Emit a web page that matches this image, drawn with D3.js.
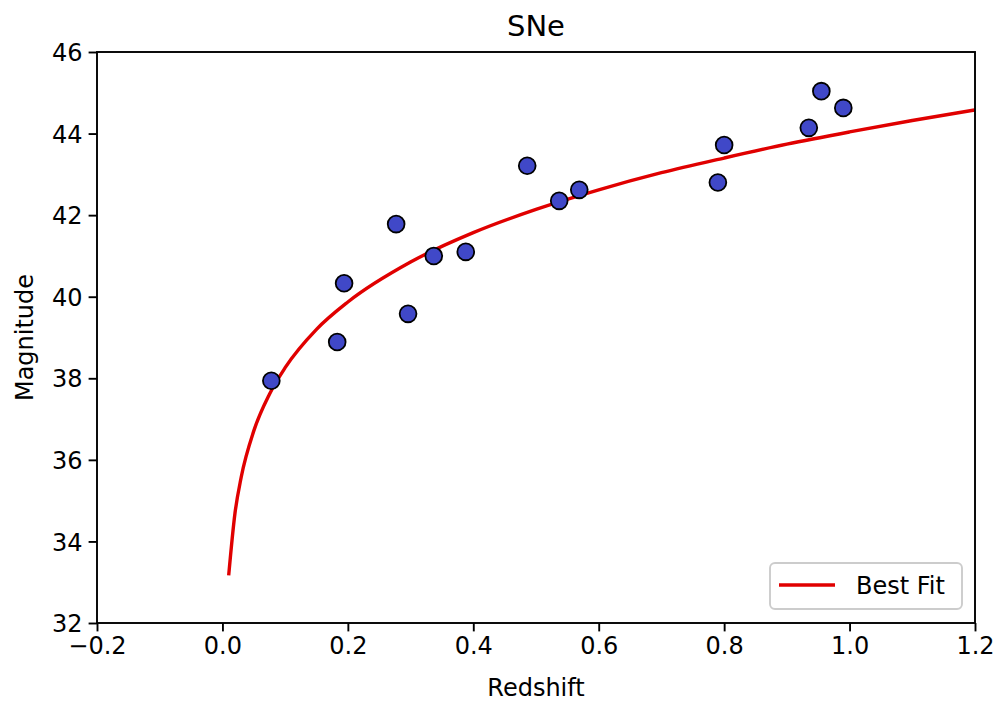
<!DOCTYPE html>
<html>
<head>
<meta charset="utf-8">
<title>SNe</title>
<script src="https://d3js.org/d3.v7.min.js"></script>
<style>
  * { margin: 0; padding: 0; }
  body { background: #fff; }
  svg { display: block; font-family: "DejaVu Sans", sans-serif; }
</style>
</head>
<body>
<div id="chart"></div>
<script>
// observed supernovae (redshift, magnitude)
const redshift  = [0.078, 0.183, 0.194, 0.277, 0.296, 0.337, 0.388, 0.486, 0.537, 0.569, 0.790, 0.800, 0.935, 0.955, 0.990];
const magnitude = [37.94, 38.89, 40.33, 41.78, 39.58, 41.00, 41.10, 43.21, 42.35, 42.62, 42.80, 43.72, 44.14, 45.04, 44.63];

// best fit curve
const fitZ   = [0.01, 0.02, 0.03, 0.05, 0.075, 0.1, 0.15, 0.2, 0.3, 0.4, 0.5, 0.6, 0.7, 0.8, 0.9, 1.0, 1.1, 1.2];
const fitMag = [33.17, 34.69, 35.58, 36.71, 37.61, 38.26, 39.20, 39.87, 40.85, 41.57, 42.14, 42.62, 43.04, 43.40, 43.74, 44.04, 44.32, 44.58];

const xTicks = [-0.2, 0.0, 0.2, 0.4, 0.6, 0.8, 1.0, 1.2];
const yTicks = [32, 34, 36, 38, 40, 42, 44, 46];

const width = 998, height = 702;
const margin = { top: 52, right: 23, bottom: 79, left: 97 };

const svg = d3.select("#chart").append("svg")
  .attr("width", width)
  .attr("height", height);

const x = d3.scaleLinear().domain([-0.2, 1.2]).range([margin.left, width - margin.right]);
const y = d3.scaleLinear().domain([32, 46]).range([height - margin.bottom, margin.top]);

// clip for plot area
svg.append("clipPath").attr("id", "clip")
  .append("rect")
  .attr("x", margin.left).attr("y", margin.top)
  .attr("width", x.range()[1] - margin.left)
  .attr("height", y.range()[0] - margin.top);

const plot = svg.append("g").attr("clip-path", "url(#clip)");

// fit line
const line = d3.line()
  .x((d, i) => x(fitZ[i]))
  .y(d => y(d))
  .curve(d3.curveMonotoneX);

plot.append("path")
  .datum(fitMag)
  .attr("d", line)
  .attr("fill", "none")
  .attr("stroke", "#e00000")
  .attr("stroke-width", 3.4);

// points
plot.selectAll("circle")
  .data(redshift)
  .join("circle")
  .attr("cx", d => x(d))
  .attr("cy", (d, i) => y(magnitude[i]))
  .attr("r", 8.4)
  .attr("fill", "#4048c8")
  .attr("stroke", "#000")
  .attr("stroke-width", 1.8);

// axes
const xAxis = svg.append("g")
  .attr("transform", `translate(0,${y.range()[0]})`)
  .call(d3.axisBottom(x).tickValues(xTicks).tickSize(8.4).tickPadding(6)
    .tickFormat(d => d3.format(".1f")(d).replace("-", "\u2212")));

const yAxis = svg.append("g")
  .attr("transform", `translate(${margin.left},0)`)
  .call(d3.axisLeft(y).tickValues(yTicks).tickSize(8.4).tickPadding(6)
    .tickFormat(d3.format("d")));

[xAxis, yAxis].forEach(g => {
  g.selectAll("text").attr("font-size", 24).attr("fill", "#000").attr("font-family", "DejaVu Sans");
  g.selectAll("line").attr("stroke", "#000").attr("stroke-width", 1.9);
  g.select(".domain").remove();
});
yAxis.selectAll("text").attr("dy", "0.36em");

// frame
svg.append("rect")
  .attr("x", margin.left).attr("y", margin.top)
  .attr("width", x.range()[1] - margin.left)
  .attr("height", y.range()[0] - margin.top)
  .attr("fill", "none")
  .attr("stroke", "#000")
  .attr("stroke-width", 1.9);

// title and labels
svg.append("text")
  .attr("x", (margin.left + x.range()[1]) / 2)
  .attr("y", 36)
  .attr("text-anchor", "middle")
  .attr("font-size", 29)
  .text("SNe");

svg.append("text")
  .attr("x", (margin.left + x.range()[1]) / 2)
  .attr("y", 696)
  .attr("text-anchor", "middle")
  .attr("font-size", 24)
  .text("Redshift");

svg.append("text")
  .attr("transform", `translate(33,${(margin.top + y.range()[0]) / 2}) rotate(-90)`)
  .attr("text-anchor", "middle")
  .attr("font-size", 24)
  .text("Magnitude");

// legend
const lg = svg.append("g");
lg.append("rect")
  .attr("x", 770).attr("y", 563)
  .attr("width", 192).attr("height", 46)
  .attr("rx", 5)
  .attr("fill", "#fff")
  .attr("fill-opacity", 0.8)
  .attr("stroke", "#cccccc")
  .attr("stroke-width", 1.9);
lg.append("line")
  .attr("x1", 779).attr("x2", 835)
  .attr("y1", 585).attr("y2", 585)
  .attr("stroke", "#e00000")
  .attr("stroke-width", 3.4);
lg.append("text")
  .attr("x", 856).attr("y", 594)
  .attr("font-size", 24)
  .text("Best Fit");
</script>
</body>
</html>
